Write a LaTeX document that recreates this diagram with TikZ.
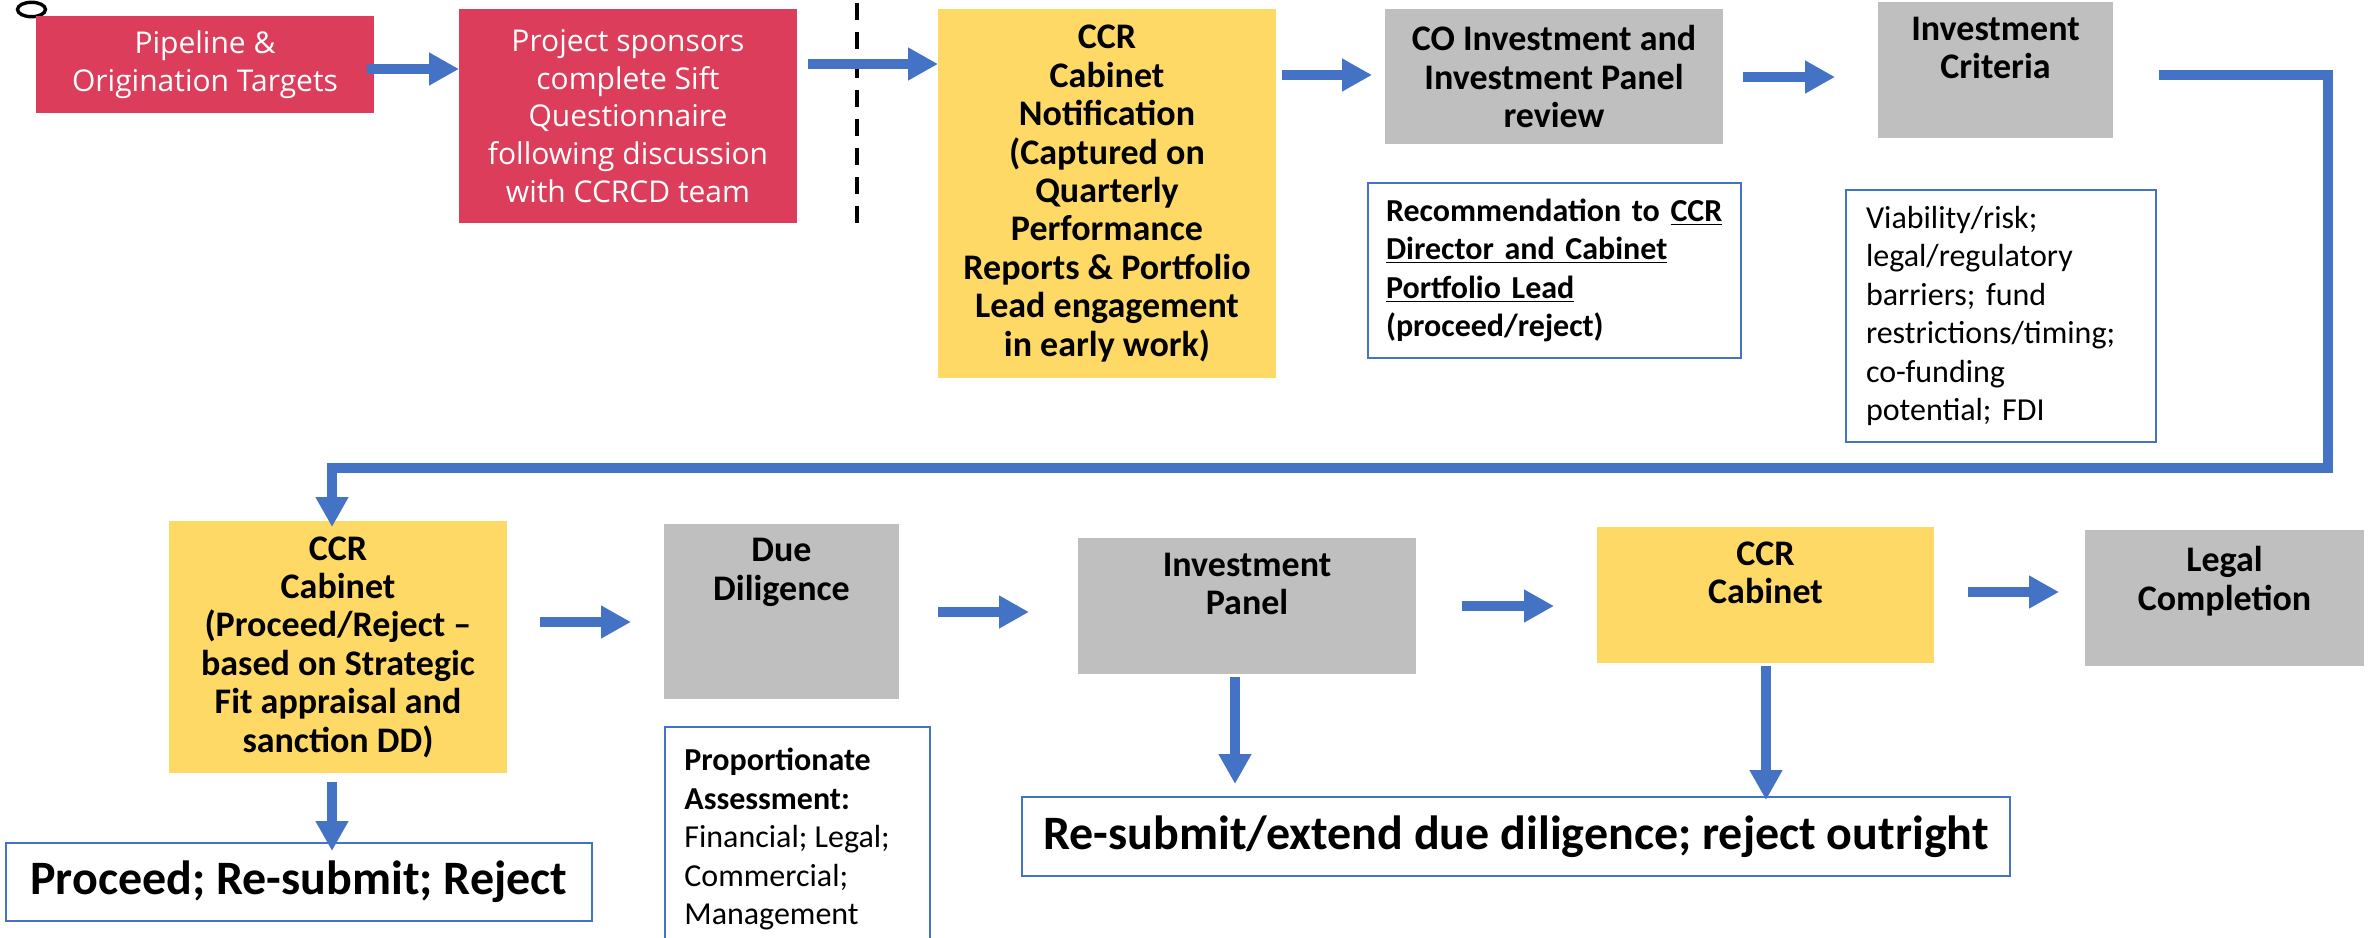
\documentclass[tikz,border=0pt]{standalone}
\usepackage{fontspec}
\setmainfont{Carlito}
\newfontfamily\osans{Open Sans}
\usetikzlibrary{arrows.meta}
\definecolor{ccrred}{HTML}{DC3D5A}
\definecolor{ccryellow}{HTML}{FFD966}
\definecolor{ccrgrey}{HTML}{BFBFBF}
\definecolor{ccrblue}{HTML}{4472C4}
\frenchspacing
\tikzset{
stage/.style={
 rectangle,
 inner sep=0pt,
 outer sep=0pt,
 anchor=north west,
 align=center
 },
redbox/.style={
 stage,
 fill=ccrred,
 text=white,
 font=\osans\fontsize{15}{18.9}\selectfont
 },
yellowbox/.style={
 stage,
 fill=ccryellow,
 font=\bfseries\fontsize{18}{19.2}\selectfont
 },
greybox/.style={
 stage,
 fill=ccrgrey,
 font=\bfseries\fontsize{18}{19.2}\selectfont
 },
notebox/.style={
 stage,
 draw=ccrblue,
 line width=1pt,
 fill=white,
 font=\fontsize{16}{19.2}\selectfont
 },
boxtext/.style={
 inner sep=0pt,
 align=center,
 font=\bfseries\fontsize{18}{19.2}\selectfont
 },
flow/.style={
 draw=ccrblue,
 line width=5pt,
 -{Triangle[width=15.5pt,length=15pt]}
 },
divider/.style={
 draw=black,
 line width=2pt,
 dash pattern=on 8.5pt off 6pt
 }
}
\begin{document}
\begin{tikzpicture}[x=0.5pt,y=-0.5pt]
\useasboundingbox (0,0) rectangle (2369,937);
\clip (0,0) rectangle (2369,937);
% top row
\draw[line width=1.7pt] (31.5,9.5) ellipse [x radius=7pt, y radius=3.6pt];
\node[redbox, minimum width=169pt, minimum height=48.5pt] (pipe) at (36,16) {Pipeline \&\\Origination Targets};
\node[redbox, minimum width=169pt, minimum height=107pt] (sift) at (459,9) {Project sponsors\\complete Sift\\Questionnaire\\following discussion\\with CCRCD team};
\draw[divider] (857,3) -- (857,224);
\node[yellowbox, minimum width=169pt, minimum height=184.5pt] (notif) at (938,9) {CCR\\Cabinet\\Notification\\(Captured on\\Quarterly\\Performance\\Reports \& Portfolio\\Lead engagement\\in early work)};
\node[greybox, minimum width=169pt, minimum height=67.5pt] (coinv) at (1385,9) {CO Investment and\\Investment Panel\\review};
\node[notebox, minimum width=186.5pt, minimum height=87.5pt, inner xsep=9pt, text width=168.5pt, align=left, font=\bfseries\fontsize{16}{19.2}\selectfont] (recom) at (1368,183) {Recommendation to \underline{CCR}\\\underline{Director and Cabinet}\\\underline{Portfolio Lead}\\(proceed/reject)};
\node[greybox, minimum width=117.5pt, minimum height=68pt] (crit) at (1878,2) {};
\node[boxtext] (crit-t) at ([yshift=-23pt]crit.north) {Investment\\Criteria};
\node[notebox, minimum width=155pt, minimum height=126pt, inner xsep=10pt, text width=135pt, align=left] (critlist) at (1846,190) {Viability/risk;\\legal/regulatory\\barriers; fund\\restrictions/timing;\\co-funding\\potential; FDI};
% bottom row
\node[yellowbox, minimum width=169pt, minimum height=126pt] (cab2) at (169,521) {CCR\\Cabinet\\(Proceed/Reject --\\based on Strategic\\Fit appraisal and\\sanction DD)};
\node[notebox, minimum width=293pt, minimum height=39pt, font=\bfseries\fontsize{24}{28}\selectfont] (proceed) at (6,843) {Proceed; Re-submit; Reject};
\node[greybox, minimum width=117.5pt, minimum height=87.5pt] (dd) at (664,524) {};
\node[boxtext] (dd-t) at ([yshift=-24.25pt]dd.north) {Due\\Diligence};
\node[notebox, minimum width=132.5pt, minimum height=116.5pt] (prop) at (665,727) {};
\node[boxtext, anchor=north west, align=left, font=\fontsize{16}{19.25}\selectfont] (prop-t) at ([shift={(19,21)}]prop.north west) {\textbf{Proportionate}\\\textbf{Assessment:}\\Financial; Legal;\\Commercial;\\Management};
\node[greybox, minimum width=169pt, minimum height=68pt] (ipanel) at (1078,538) {};
\node[boxtext] (ipanel-t) at ([yshift=-23pt]ipanel.north) {Investment\\Panel};
\node[yellowbox, minimum width=168.5pt, minimum height=68pt] (cab3) at (1597,527) {};
\node[boxtext] (cab3-t) at ([yshift=-23pt]cab3.north) {CCR\\Cabinet};
\node[greybox, minimum width=139.5pt, minimum height=68pt] (legal) at (2085,530) {};
\node[boxtext] (legal-t) at ([yshift=-25.5pt]legal.north) {Legal\\Completion};
\node[notebox, minimum width=494pt, minimum height=39.5pt, font=\bfseries\fontsize{24}{28}\selectfont] (resub) at (1022,797) {Re-submit/extend due diligence; reject outright};
% arrows
\draw[flow] ([shift={(-7,4.5)}]pipe.east) coordinate (a1) -- (a1 -| sift.west);
\draw[flow] ([shift={(11,-52)}]sift.east) coordinate (a2) -- (a2 -| notif.west);
\draw[flow, shorten >=6.5pt] ([shift={(6,-118.5)}]notif.east) coordinate (a3) -- (a3 -| coinv.west);
\draw[flow, shorten >=21.5pt] ([shift={(20,0.5)}]coinv.east) coordinate (a4) -- (a4 -| crit.west);
\draw[flow, shorten >=-3pt] ([shift={(46,5)}]crit.east) -- ++(169,0) -- ++(0,393) -| ([xshift=-3pt]cab2.north);
\draw[flow, shorten >=-4pt] ([shift={(-6,9)}]cab2.south) coordinate (a5) -- (a5 |- proceed.north);
\draw[flow, shorten >=16.5pt] ([shift={(33,-25)}]cab2.east) coordinate (a6) -- (a6 -| dd.west);
\draw[flow, shorten >=24.5pt] ([shift={(39,0.5)}]dd.east) coordinate (a7) -- (a7 -| ipanel.west);
\draw[flow, shorten >=21.5pt] ([shift={(46,0)}]ipanel.east) coordinate (a8) -- (a8 -| cab3.west);
\draw[flow, shorten >=13pt] ([shift={(34,-3)}]cab3.east) coordinate (a9) -- (a9 -| legal.west);
\draw[flow, shorten >=6.5pt] ([shift={(-12,3)}]ipanel.south) coordinate (a10) -- (a10 |- resub.north);
\draw[flow, shorten >=-1.5pt] ([shift={(0.5,3)}]cab3.south) coordinate (a11) -- (a11 |- resub.north);
\end{tikzpicture}
\end{document}
